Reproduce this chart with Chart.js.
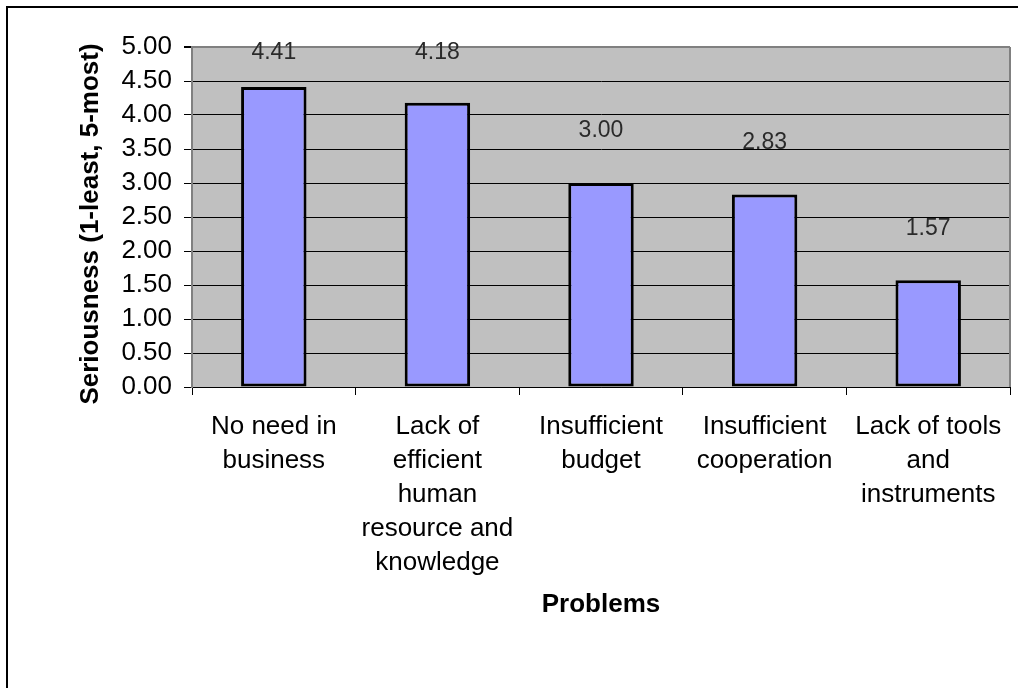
<!DOCTYPE html>
<html>
<head>
<meta charset="utf-8">
<title>Seriousness of problems</title>
<script src="https://cdn.jsdelivr.net/npm/chart.js@4/dist/chart.umd.min.js"></script>
<style>
  html, body { margin: 0; padding: 0; background: #fff; }
  #c { display: block; }
</style>
</head>
<body>
<canvas id="c" width="1018" height="688"></canvas>
<script>
// Problem categories (multi-line labels) and their mean seriousness scores
const categories = [
  ["No need in", "business"],
  ["Lack of", "efficient", "human", "resource and", "knowledge"],
  ["Insufficient", "budget"],
  ["Insufficient", "cooperation"],
  ["Lack of tools", "and", "instruments"]
];
const seriousness = [4.41, 4.18, 3.00, 2.83, 1.57];
const yTitle = "Seriousness (1-least, 5-most)";
const xTitle = "Problems";

const FONT = "'Liberation Sans', Arial, Helvetica, sans-serif";

// Page frame, plot background and right plot edge
const backdrop = {
  id: 'backdrop',
  beforeDraw(chart) {
    const { ctx, chartArea: a } = chart;
    ctx.save();
    ctx.fillStyle = '#ffffff';
    ctx.fillRect(0, 0, chart.width, chart.height);
    ctx.strokeStyle = '#000';
    ctx.lineWidth = 2;
    ctx.beginPath();
    ctx.moveTo(7, chart.height + 5);
    ctx.lineTo(7, 7);
    ctx.lineTo(chart.width + 5, 7);
    ctx.stroke();
    ctx.fillStyle = '#C0C0C0';
    ctx.fillRect(a.left, a.top, a.right - a.left, a.bottom - a.top);
    ctx.restore();
  },
  afterDraw(chart) {
    const { ctx, chartArea: a } = chart;
    ctx.save();
    ctx.strokeStyle = '#808080';
    ctx.lineWidth = 2;
    ctx.beginPath();
    ctx.moveTo(a.right, a.top);
    ctx.lineTo(a.right, a.bottom);
    ctx.stroke();
    ctx.restore();
  }
};

// Value labels above each bar, kept inside the plot area
const valueLabels = {
  id: 'valueLabels',
  afterDatasetsDraw(chart) {
    const { ctx, chartArea: a } = chart;
    const meta = chart.getDatasetMeta(0);
    const data = chart.data.datasets[0].data;
    ctx.save();
    ctx.font = '23px ' + FONT;
    ctx.fillStyle = '#2a2a2a';
    ctx.textAlign = 'center';
    ctx.textBaseline = 'middle';
    meta.data.forEach((bar, i) => {
      const y = Math.max(bar.y - 52, a.top + 6);
      ctx.fillText(data[i].toFixed(2), bar.x, y);
    });
    ctx.restore();
  }
};

// Axis titles
const axisTitles = {
  id: 'axisTitles',
  afterDraw(chart) {
    const { ctx, chartArea: a } = chart;
    ctx.save();
    ctx.fillStyle = '#000';
    ctx.textAlign = 'center';
    ctx.textBaseline = 'middle';
    ctx.font = 'bold 26px ' + FONT;
    ctx.fillText(xTitle, (a.left + a.right) / 2, 605);
    ctx.translate(91, 224);
    ctx.rotate(-Math.PI / 2);
    ctx.fillText(yTitle, 0, 0);
    ctx.restore();
  }
};

new Chart(document.getElementById('c'), {
  type: 'bar',
  data: {
    labels: categories,
    datasets: [{
      data: seriousness,
      backgroundColor: '#9999FF',
      borderColor: '#000',
      borderWidth: 3,
      borderSkipped: false,
      categoryPercentage: 1,
      barPercentage: 0.4
    }]
  },
  options: {
    responsive: false,
    animation: false,
    layout: { padding: { left: 0, top: 47, right: 8, bottom: 0 } },
    plugins: {
      legend: { display: false },
      tooltip: { enabled: false }
    },
    scales: {
      x: {
        afterFit(scale) { scale.height = 301; },
        grid: {
          drawOnChartArea: false,
          drawTicks: true,
          tickLength: 8,
          color: '#000',
          tickColor: '#000',
          offset: true
        },
        border: { color: '#000', width: 1 },
        ticks: {
          color: '#000',
          padding: 15,
          maxRotation: 0,
          autoSkip: false,
          font: { family: FONT, size: 26, lineHeight: 1.31 }
        }
      },
      y: {
        min: 0,
        max: 5,
        afterFit(scale) { scale.width = 192; },
        grid: {
          color: (c) => (c.tick && c.tick.value === 5) ? '#808080' : '#000',
          tickColor: '#000',
          tickLength: 8,
          lineWidth: (c) => (c.tick && c.tick.value === 5) ? 2 : 1
        },
        border: { color: '#808080', width: 2 },
        ticks: {
          stepSize: 0.5,
          autoSkip: false,
          color: '#000',
          padding: 12,
          font: { family: FONT, size: 26 },
          callback: (v) => Number(v).toFixed(2)
        }
      }
    }
  },
  plugins: [backdrop, valueLabels, axisTitles]
});
</script>
</body>
</html>
